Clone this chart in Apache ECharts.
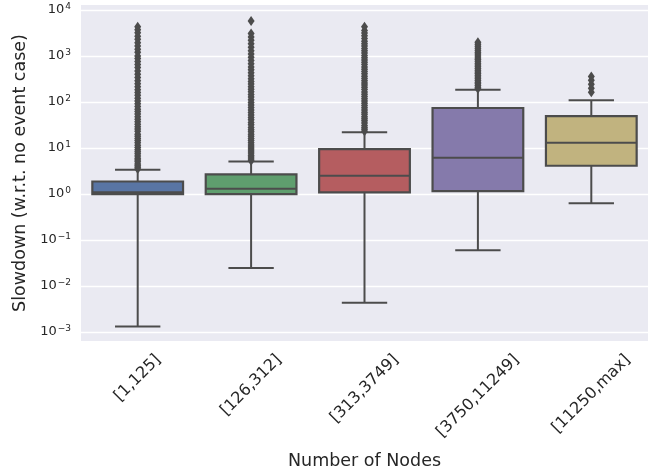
<!DOCTYPE html>
<html>
<head>
<meta charset="utf-8">
<script src="https://cdn.jsdelivr.net/npm/echarts@6/dist/echarts.min.js"></script>
<style>
  html, body { margin: 0; padding: 0; background: #fff; }
  #main { width: 664px; height: 474px; }
</style>
</head>
<body>
<div id="main"></div>
<script>
// categories on the x axis
var categories = ['[1,125]', '[126,312]', '[313,3749]', '[3750,11249]', '[11250,max]'];

// box statistics
var lowerWhisker = [0.00132, 0.0247, 0.00433, 0.0597, 0.63];
var q1Values     = [0.99, 0.99, 1.09, 1.15, 4.11];
var medianValues = [1.09, 1.30, 2.49, 6.15, 13.0];
var q3Values     = [1.87, 2.66, 9.46, 74, 49.5];
var upperWhisker = [3.37, 5.06, 22.1, 184, 109];

// fliers per category
var fliers1 = [3.5, 3.8, 4.1, 4.5, 5, 5.5, 6, 6.7, 7.5, 8.3, 9.2, 10.3, 11.5, 13, 14.5, 16, 18, 20, 23, 26,
  29, 33, 37, 42, 48, 55, 62, 70, 80, 92, 105, 120, 140, 160, 185, 215, 250, 290, 340, 400,
  470, 560, 650, 760, 880, 1000, 1200, 1400, 1650, 1950, 2300, 2700, 3200, 3700, 4300];
var fliers2 = [5.3, 5.8, 6.4, 7, 7.8, 8.6, 9.5, 10.5, 11.6, 13, 14.5, 16, 18, 20, 22.5, 25, 28, 32, 36, 41,
  46, 52, 59, 67, 76, 86, 98, 112, 128, 146, 167, 190, 215, 245, 280, 320, 370, 430, 500, 580,
  680, 800, 940, 1100, 1300, 1550, 1850, 2200, 2600, 3100, 5800];
var fliers3 = [23, 25.5, 28, 31, 35, 39, 43, 48, 54, 60, 67, 75, 84, 94, 105, 118, 132, 148, 166, 186,
  208, 233, 260, 290, 325, 365, 410, 460, 515, 580, 650, 730, 820, 920, 1030, 1160, 1300, 1460,
  1650, 1850, 2100, 2400, 2750, 3150, 3600, 4300];
var fliers4 = [195, 210, 228, 248, 270, 294, 320, 348, 380, 414, 450, 490, 535, 585, 640, 700, 765, 835,
  910, 1000, 1100, 1210, 1330, 1470, 1620, 1800, 2000];
var fliers5 = [163, 199, 243, 297, 360];

var boxColors = ['#5975a4', '#5f9e6e', '#b55d60', '#857aab', '#c1b37f'];
var lineColor = '#4c4c4c';
var textColor = '#262626';
var fontName = 'DejaVu Sans';
var xLabelSize = 16;
var xLabelTop = 351;

var boxData = categories.map(function (c, i) {
  return [i, lowerWhisker[i], q1Values[i], medianValues[i], q3Values[i], upperWhisker[i]];
});
var flierData = [];
[fliers1, fliers2, fliers3, fliers4, fliers5].forEach(function (arr, i) {
  arr.forEach(function (v) { flierData.push([i, v]); });
});

var supMinus = '\u2212';
function logLabel(value) {
  var e = Math.round(Math.log10(value));
  var s = e < 0 ? supMinus + (-e) : '' + e;
  return '{b|10}{s|' + s + '}';
}

function renderBox(params, api) {
  var i = api.value(0);
  var lo = api.coord([i, api.value(1)]);
  var q1 = api.coord([i, api.value(2)]);
  var md = api.coord([i, api.value(3)]);
  var q3 = api.coord([i, api.value(4)]);
  var hi = api.coord([i, api.value(5)]);
  var bw = api.size([1, 0])[0];
  var half = bw * 0.4, cap = bw * 0.2, cx = md[0];
  var ls = { stroke: lineColor, lineWidth: 2, fill: null };
  return {
    type: 'group',
    children: [
      { type: 'line', shape: { x1: cx, y1: lo[1], x2: cx, y2: q1[1] }, style: ls },
      { type: 'line', shape: { x1: cx, y1: q3[1], x2: cx, y2: hi[1] }, style: ls },
      { type: 'line', shape: { x1: cx - cap, y1: lo[1], x2: cx + cap, y2: lo[1] }, style: ls },
      { type: 'line', shape: { x1: cx - cap, y1: hi[1], x2: cx + cap, y2: hi[1] }, style: ls },
      { type: 'rect', shape: { x: cx - half, y: q3[1], width: half * 2, height: q1[1] - q3[1] },
        style: { fill: boxColors[i], stroke: lineColor, lineWidth: 2.2 } },
      { type: 'line', shape: { x1: cx - half, y1: md[1], x2: cx + half, y2: md[1] }, style: ls }
    ]
  };
}

var option = {
  animation: false,
  backgroundColor: '#ffffff',
  textStyle: { fontFamily: fontName },
  graphic: {
    elements: [{
      id: 'bg', type: 'rect', z: -100, silent: true,
      shape: { x: 81, y: 5, width: 567, height: 336 },
      style: { fill: '#eaeaf2' }
    }]
  },
  grid: { left: 81, right: 16, top: 10, bottom: 142, outerBoundsMode: 'none' },
  xAxis: {
    type: 'category', data: categories, boundaryGap: true,
    axisLine: { show: false }, axisTick: { show: false }, splitLine: { show: false },
    axisLabel: { show: false },
    name: 'Number of Nodes', nameLocation: 'middle', nameGap: 120,
    nameTextStyle: { fontSize: 17.5, color: textColor, fontFamily: fontName }
  },
  yAxis: {
    type: 'log', logBase: 10, min: 0.001, max: 10000,
    axisLine: { show: false }, axisTick: { show: false },
    splitLine: { show: true, lineStyle: { color: '#ffffff', width: 1.3 } },
    axisLabel: {
      margin: 10, color: textColor, formatter: logLabel,
      rich: {
        b: { fontSize: 13, color: textColor, fontFamily: fontName },
        s: { fontSize: 9, color: textColor, fontFamily: fontName, verticalAlign: 'top', padding: [0, 0, 6, 1] }
      }
    },
    name: 'Slowdown (w.r.t. no event case)', nameLocation: 'middle', nameGap: 51,
    nameTextStyle: { fontSize: 17.5, color: textColor, fontFamily: fontName, padding: [0, 4, 0, 0] }
  },
  series: [
    {
      type: 'custom', renderItem: renderBox, data: boxData, z: 2
    },
    {
      type: 'scatter', data: flierData, z: 3,
      symbol: 'diamond', symbolSize: [7, 10],
      itemStyle: { color: lineColor, opacity: 1 }
    }
  ]
};

var chart = echarts.init(document.getElementById('main'));
chart.setOption(option);

// rotated tick labels: box centred on the tick, tops lined up (matplotlib style)
var ctx = document.createElement('canvas').getContext('2d');
ctx.font = xLabelSize + 'px "' + fontName + '"';
var tickLabels = categories.map(function (c, i) {
  var px = chart.convertToPixel({ xAxisIndex: 0 }, c);
  var w = ctx.measureText(c).width;
  var halfBox = Math.SQRT1_2 * (w + xLabelSize * 1.15) / 2;
  return {
    id: 'xl' + i, type: 'text', silent: true,
    x: px, y: xLabelTop + halfBox, rotation: Math.PI / 4,
    style: {
      text: c, fill: textColor, align: 'center', verticalAlign: 'middle',
      font: xLabelSize + 'px "' + fontName + '"'
    }
  };
});
chart.setOption({ graphic: { elements: tickLabels } });
</script>
</body>
</html>
